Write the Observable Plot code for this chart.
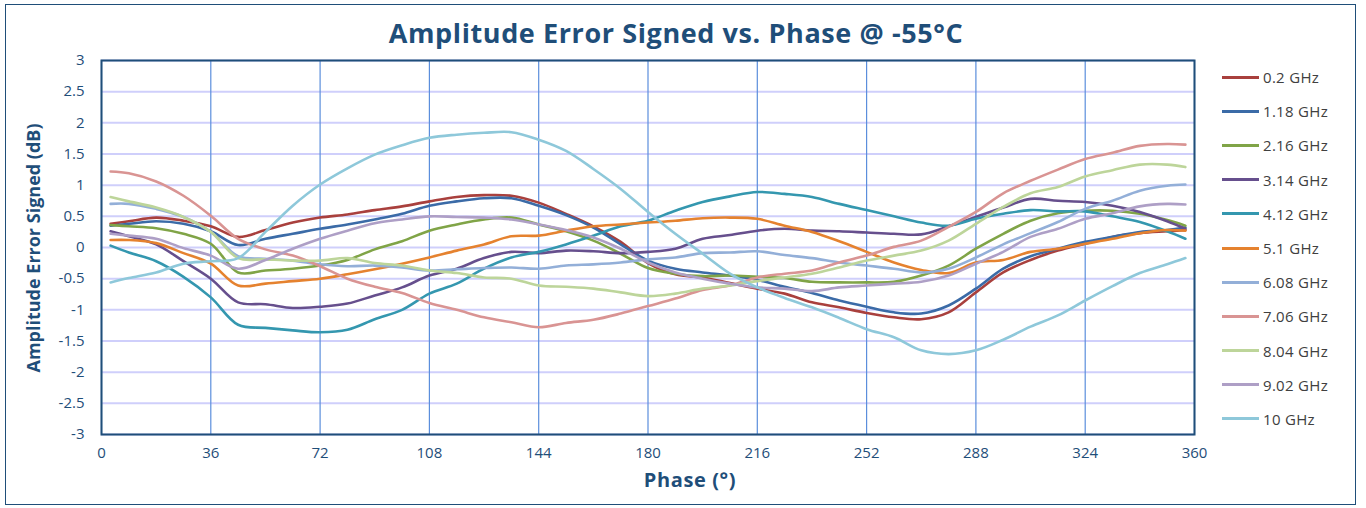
<!DOCTYPE html>
<html>
<head>
<meta charset="utf-8">
<script src="https://cdn.jsdelivr.net/npm/d3@7"></script>
<script src="https://cdn.jsdelivr.net/npm/@observablehq/plot@0.6"></script>
<style>
  html, body { margin: 0; padding: 0; background: #fff; }
  #wrap { position: relative; width: 1366px; height: 508px; overflow: hidden; font-family: "Open Sans", "Noto Sans", sans-serif; }
  #wrap svg { position: absolute; left: 0; top: 0; }
  #border { position: absolute; left: 5px; top: 4px; width: 1351px; height: 501px; border: 1px solid #1F4E79; box-sizing: border-box; pointer-events: none; }
  #title { position: absolute; left: 0; width: 1352px; top: 14px; text-align: center; font-weight: 700; font-size: 27px; letter-spacing: 0.6px; color: #1F4E79; white-space: nowrap; }
  #xtitle { position: absolute; left: 590px; width: 200px; top: 466px; text-align: center; font-weight: 700; font-size: 20px; letter-spacing: 0.6px; color: #1F4E79; }
  #ytitle { position: absolute; left: 33px; top: 248px; transform: translate(-50%, -50%) rotate(-90deg); font-weight: 700; font-size: 18px; color: #1F4E79; white-space: nowrap; }
  #legend { position: absolute; left: 1222px; top: 60px; }
  .li { height: 34.2px; display: flex; align-items: center; font-size: 15px; letter-spacing: 0.3px; color: #404040; white-space: nowrap; }
  .sw { width: 37px; height: 3px; margin-right: 4px; }
</style>
</head>
<body>
<div id="wrap">
  <div id="title">Amplitude Error Signed vs. Phase @ -55°C</div>
  <div id="ytitle">Amplitude Error Signed (dB)</div>
  <div id="xtitle">Phase (°)</div>
  <div id="legend"></div>
  <div id="border"></div>
</div>
<script>
const seriesNames = ["0.2 GHz","1.18 GHz","2.16 GHz","3.14 GHz","4.12 GHz","5.1 GHz","6.08 GHz","7.06 GHz","8.04 GHz","9.02 GHz","10 GHz"];
const seriesColors = ["#A9403D","#3B6BA7","#80A447","#664F8D","#3497AF","#E5822F","#93AFD8","#D99493","#BDD59A","#AE9FC6","#8EC8DA"];
const xTicks = [0,36,72,108,144,180,216,252,288,324,360];
const yTicks = [-3,-2.5,-2,-1.5,-1,-0.5,0,0.5,1,1.5,2,2.5,3];

const phase = [3,9,18,27,36,45,54,63,72,81,90,99,108,117,126,135,144,153,162,171,180,189,198,207,216,225,234,243,252,261,270,279,288,297,306,315,324,333,342,351,357];

const s0_2 = [0.38,0.42,0.48,0.43,0.34,0.17,0.28,0.40,0.48,0.53,0.60,0.66,0.74,0.81,0.84,0.83,0.72,0.54,0.34,0.09,-0.25,-0.43,-0.48,-0.57,-0.66,-0.74,-0.88,-0.96,-1.05,-1.12,-1.15,-1.04,-0.72,-0.40,-0.20,-0.05,0.06,0.17,0.23,0.26,0.28];
const s1_18 = [0.35,0.38,0.42,0.38,0.26,0.04,0.14,0.22,0.30,0.37,0.45,0.54,0.67,0.74,0.79,0.79,0.67,0.52,0.32,0.05,-0.21,-0.34,-0.40,-0.45,-0.52,-0.63,-0.73,-0.85,-0.95,-1.04,-1.06,-0.93,-0.66,-0.34,-0.14,-0.02,0.09,0.17,0.25,0.28,0.32];
const s2_16 = [0.36,0.34,0.31,0.22,0.06,-0.40,-0.37,-0.34,-0.29,-0.20,-0.03,0.10,0.27,0.37,0.45,0.48,0.37,0.26,0.11,-0.10,-0.33,-0.42,-0.46,-0.45,-0.47,-0.49,-0.55,-0.56,-0.56,-0.55,-0.45,-0.29,-0.02,0.22,0.43,0.55,0.59,0.59,0.54,0.44,0.35];
const s3_14 = [0.26,0.18,0.05,-0.22,-0.50,-0.88,-0.91,-0.97,-0.95,-0.90,-0.77,-0.64,-0.45,-0.34,-0.17,-0.07,-0.09,-0.05,-0.06,-0.09,-0.07,-0.02,0.14,0.20,0.27,0.30,0.27,0.26,0.24,0.22,0.21,0.34,0.49,0.64,0.78,0.75,0.73,0.67,0.57,0.42,0.30];
const s4_12 = [0.03,-0.08,-0.22,-0.47,-0.80,-1.24,-1.29,-1.33,-1.36,-1.32,-1.15,-1.00,-0.74,-0.58,-0.34,-0.16,-0.07,0.05,0.19,0.34,0.43,0.59,0.73,0.82,0.89,0.86,0.81,0.70,0.60,0.50,0.40,0.35,0.46,0.54,0.60,0.58,0.58,0.50,0.41,0.26,0.14];
const s5_1 = [0.12,0.12,0.07,-0.09,-0.26,-0.61,-0.58,-0.54,-0.50,-0.43,-0.35,-0.26,-0.16,-0.05,0.05,0.18,0.19,0.27,0.34,0.37,0.40,0.43,0.47,0.48,0.46,0.35,0.25,0.10,-0.07,-0.24,-0.36,-0.41,-0.24,-0.20,-0.07,-0.02,0.06,0.14,0.23,0.28,0.27];
const s6_08 = [0.70,0.70,0.62,0.49,0.25,-0.14,-0.18,-0.21,-0.27,-0.30,-0.29,-0.32,-0.37,-0.35,-0.33,-0.32,-0.34,-0.29,-0.27,-0.24,-0.19,-0.16,-0.09,-0.08,-0.06,-0.12,-0.17,-0.24,-0.29,-0.34,-0.40,-0.34,-0.16,0.05,0.23,0.41,0.62,0.75,0.91,0.99,1.01];
const s7_06 = [1.22,1.19,1.06,0.83,0.51,0.14,-0.03,-0.13,-0.30,-0.50,-0.63,-0.73,-0.89,-1.00,-1.12,-1.20,-1.28,-1.21,-1.16,-1.06,-0.94,-0.82,-0.68,-0.61,-0.48,-0.42,-0.37,-0.24,-0.13,0.01,0.11,0.33,0.57,0.87,1.07,1.25,1.42,1.52,1.63,1.66,1.65];
const s8_04 = [0.81,0.74,0.64,0.49,0.25,-0.17,-0.19,-0.21,-0.21,-0.17,-0.25,-0.29,-0.37,-0.41,-0.48,-0.50,-0.61,-0.63,-0.66,-0.72,-0.78,-0.74,-0.66,-0.61,-0.54,-0.48,-0.42,-0.32,-0.21,-0.13,-0.05,0.11,0.38,0.65,0.87,0.97,1.14,1.24,1.33,1.33,1.29];
const s9_02 = [0.22,0.19,0.14,-0.01,-0.13,-0.34,-0.20,-0.02,0.14,0.27,0.39,0.45,0.50,0.49,0.48,0.45,0.37,0.28,0.16,-0.02,-0.24,-0.40,-0.50,-0.58,-0.64,-0.66,-0.70,-0.64,-0.61,-0.58,-0.55,-0.45,-0.26,-0.07,0.17,0.30,0.46,0.55,0.66,0.70,0.69];
const s10 = [-0.56,-0.49,-0.40,-0.26,-0.22,-0.17,0.25,0.67,1.01,1.27,1.49,1.64,1.76,1.81,1.84,1.85,1.73,1.55,1.26,0.94,0.57,0.22,-0.10,-0.42,-0.64,-0.81,-0.96,-1.13,-1.31,-1.44,-1.65,-1.71,-1.65,-1.48,-1.27,-1.09,-0.85,-0.62,-0.41,-0.27,-0.17];

const seriesValues = [s0_2,s1_18,s2_16,s3_14,s4_12,s5_1,s6_08,s7_06,s8_04,s9_02,s10];

const rows = [];
seriesValues.forEach((vals, i) => {
  vals.forEach((v, j) => rows.push({series: seriesNames[i], phase: phase[j], value: v}));
});

const axisColor = "#1F4E79";
const chart = Plot.plot({
  width: 1366,
  height: 508,
  marginLeft: 101,
  marginRight: 172,
  marginTop: 60,
  marginBottom: 74,
  style: {fontFamily: "'Open Sans', 'Noto Sans', sans-serif", fontSize: "15px", background: "transparent", overflow: "visible"},
  x: {domain: [0, 360]},
  y: {domain: [-3, 3]},
  color: {domain: seriesNames, range: seriesColors},
  marks: [
    Plot.gridY(yTicks, {stroke: "#CFCFFB", strokeOpacity: 1, strokeWidth: 2}),
    Plot.gridX(xTicks, {stroke: "#5B8EDC", strokeOpacity: 1, strokeWidth: 1.2}),
    Plot.line(rows, {x: "phase", y: "value", z: "series", stroke: "series", curve: "catmull-rom", strokeWidth: 2.6}),
    Plot.frame({stroke: axisColor, strokeWidth: 2}),
    Plot.axisY(yTicks, {tickSize: 0, tickPadding: 17, tickFormat: d => String(d), fill: axisColor, label: null, fontSize: 15}),
    Plot.axisX(xTicks, {tickSize: 0, tickPadding: 13, tickFormat: d => String(d), fill: axisColor, label: null, fontSize: 15})
  ]
});
document.getElementById("wrap").prepend(chart);

const legend = document.getElementById("legend");
seriesNames.forEach((name, i) => {
  const item = document.createElement("div");
  item.className = "li";
  const sw = document.createElement("span");
  sw.className = "sw";
  sw.style.background = seriesColors[i];
  item.appendChild(sw);
  item.appendChild(document.createTextNode(name));
  legend.appendChild(item);
});
</script>
</body>
</html>
